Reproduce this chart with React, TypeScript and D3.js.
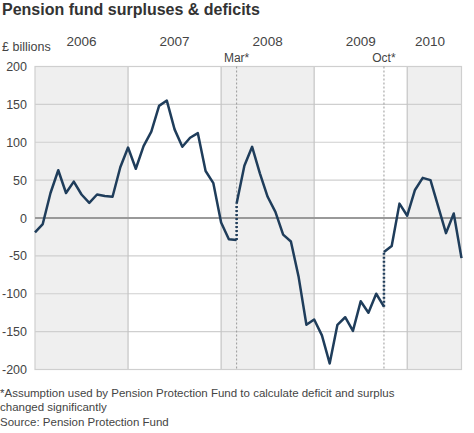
import React from "react";
import * as d3 from "d3";

// Monthly values, £ billions; index 0 = Jan 2006
const segmentA: number[] = [-19, -8, 33, 63, 33, 48, 31, 20, 31, 29, 28, 67, 93, 65, 95, 114, 148, 155, 117, 94, 106, 112, 62, 46, -6, -28, -29];
const segmentB: number[] = [19, 69, 94, 59, 28, 8, -22, -31, -78, -141, -134, -155, -192, -141, -131, -149, -110, -125, -100, -117];
const segmentC: number[] = [-45, -37, 19, 3, 37, 53, 50, 15, -20, 6, -53];
const segmentStarts: number[] = [0, 26, 45];
const years: string[] = ["2006", "2007", "2008", "2009", "2010"];
const yTicks: number[] = [200, 150, 100, 50, 0, -50, -100, -150, -200];
const breaks: { label: string; index: number }[] = [
  { label: "Mar*", index: 26 },
  { label: "Oct*", index: 45 },
];
const lastIndex = 55;

const W = 474;
const H = 433;
const left = 35;
const right = 461.5;
const top = 66.5;
const bottom = 369.5;

export default function App() {
  const x = d3.scaleLinear().domain([0, lastIndex]).range([left, right]);
  const y = d3.scaleLinear().domain([-200, 200]).range([bottom, top]);
  const line = d3
    .line<number>()
    .x((_, i) => x(i))
    .y((d) => y(d));
  const segs = [segmentA, segmentB, segmentC];
  const font = "'Liberation Sans', Arial, Helvetica, sans-serif";
  const lineColor = "#1f3d5b";

  return (
    <svg
      width={W}
      height={H}
      style={{ position: "absolute", left: 0, top: 0, background: "#fff" }}
      fontFamily={font}
    >
      <text x={2} y={15} fontSize={16} fontWeight="bold" fill="#333">
        Pension fund surpluses &amp; deficits
      </text>
      <text x={2} y={51} fontSize={12.5} fill="#444">
        £ billions
      </text>
      {/* year bands */}
      {years.map((yr, k) => {
        const x0 = x(k * 12);
        const x1 = Math.min(x((k + 1) * 12), right);
        return (
          <g key={yr}>
            {k % 2 === 0 && (
              <rect x={x0} y={top} width={x1 - x0} height={bottom - top} fill="#efefef" />
            )}
            <text
              x={k === 4 ? 430 : (x0 + x1) / 2}
              y={46}
              fontSize={13.5}
              fill="#444"
              textAnchor="middle"
            >
              {yr}
            </text>
          </g>
        );
      })}
      {/* horizontal gridlines */}
      {yTicks.map((t) => (
        <g key={t}>
          {t !== 0 && (
            <line x1={left} x2={right} y1={y(t)} y2={y(t)} stroke="#cfcfcf" strokeWidth={1.2} />
          )}
          <text x={27} y={y(t) + 4.5} fontSize={12.5} fill="#444" textAnchor="end">
            {t}
          </text>
        </g>
      ))}
      {/* vertical year boundaries */}
      {years.slice(1).map((yr, k) => (
        <line
          key={yr}
          x1={x((k + 1) * 12)}
          x2={x((k + 1) * 12)}
          y1={top}
          y2={bottom}
          stroke="#c4c4c4"
          strokeWidth={1.2}
        />
      ))}
      <rect x={left} y={top} width={right - left} height={bottom - top} fill="none" stroke="#cfcfcf" strokeWidth={1.2} />
      {/* break markers */}
      {breaks.map((b) => (
        <g key={b.label}>
          <line
            x1={x(b.index)}
            x2={x(b.index)}
            y1={top}
            y2={bottom}
            stroke="#999"
            strokeWidth={1}
            strokeDasharray="2,2"
          />
          <text x={x(b.index)} y={62} fontSize={12} fill="#444" textAnchor="middle">
            {b.label}
          </text>
        </g>
      ))}
      <line x1={left} x2={right} y1={y(0)} y2={y(0)} stroke="#999" strokeWidth={2} />
      {/* jumps */}
      {segs.slice(1).map((s, k) => {
        const prev = segs[k];
        const xi = x(segmentStarts[k + 1]);
        return (
          <line
            key={k}
            x1={xi}
            x2={xi}
            y1={y(prev[prev.length - 1])}
            y2={y(s[0])}
            stroke={lineColor}
            strokeWidth={2.5}
            strokeDasharray="2,2"
          />
        );
      })}
      {segs.map((s, k) => (
        <path
          key={k}
          d={line(s) || ""}
          transform={`translate(${x(segmentStarts[k]) - x(0)},0)`}
          fill="none"
          stroke={lineColor}
          strokeWidth={2.5}
          strokeLinejoin="round"
        />
      ))}
      <g fontSize={11.5} fill="#444">
        <text x={0} y={397}>*Assumption used by Pension Protection Fund to calculate deficit and surplus</text>
        <text x={0} y={411}>changed significantly</text>
        <text x={0} y={426}>Source: Pension Protection Fund</text>
      </g>
    </svg>
  );
}
